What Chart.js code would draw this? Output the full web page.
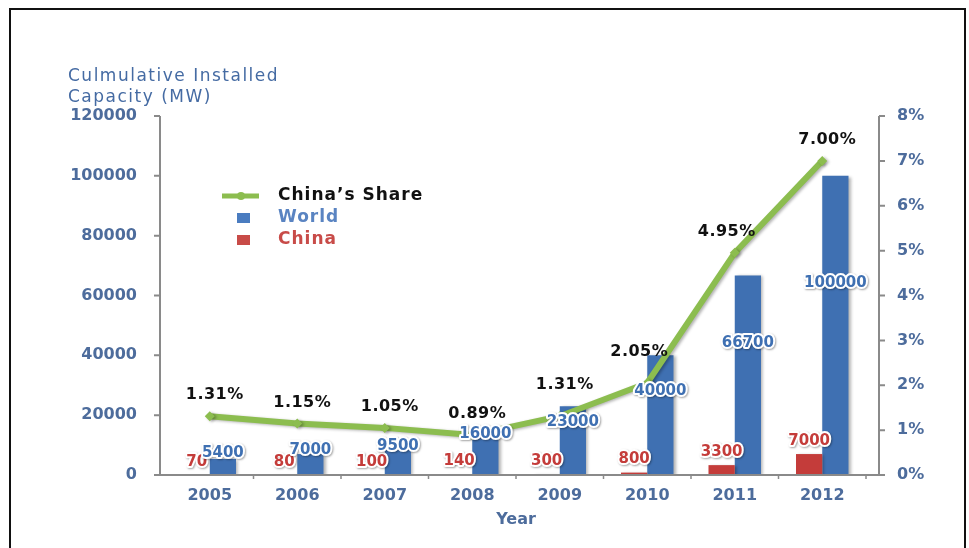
<!DOCTYPE html>
<html>
<head>
<meta charset="utf-8">
<script src="https://cdn.jsdelivr.net/npm/chart.js@4"></script>
<style>
  html, body { margin: 0; padding: 0; background: #fff; }
  #wrap { width: 969px; height: 548px; }
</style>
</head>
<body>
<div id="wrap"><canvas id="windChart" width="969" height="548"></canvas></div>
<script>
const years = ['2005', '2006', '2007', '2008', '2009', '2010', '2011', '2012'];
const worldMW = [5400, 7000, 9500, 16000, 23000, 40000, 66700, 100000];
const chinaMW = [70, 80, 100, 140, 300, 800, 3300, 7000];
const chinaShare = [1.31, 1.15, 1.05, 0.89, 1.31, 2.05, 4.95, 7.00];

const BLUE = '#3f70b2';
const RED = '#c43c3a';
const GREEN = '#8cbd4f';
const AXIS_TEXT = '#4d6c9c';
const FONT = '"DejaVu Sans", Verdana, sans-serif';

// text with a white halo, like the embossed value labels
function haloText(ctx, text, x, y, color, size) {
  ctx.save();
  ctx.font = 'bold ' + size + 'px ' + FONT;
  ctx.textAlign = 'center';
  ctx.textBaseline = 'middle';
  ctx.shadowColor = 'rgba(0,0,0,0.35)';
  ctx.shadowOffsetX = 1;
  ctx.shadowOffsetY = 1;
  ctx.shadowBlur = 2;
  ctx.lineWidth = 4;
  ctx.lineJoin = 'round';
  ctx.strokeStyle = '#fff';
  ctx.strokeText(text, x, y);
  ctx.shadowColor = 'transparent';
  ctx.fillStyle = color;
  ctx.fillText(text, x, y);
  ctx.restore();
}

const decor = {
  id: 'decor',
  beforeDraw(chart) {
    const ctx = chart.ctx;
    ctx.save();
    // outer frame
    ctx.strokeStyle = '#111';
    ctx.lineWidth = 2;
    ctx.strokeRect(10, 9, 955, 600);
    ctx.restore();
  },
  beforeDatasetDraw(chart, args) {
    const ctx = chart.ctx;
    ctx.save();
    ctx.shadowColor = 'rgba(0,0,0,0.3)';
    ctx.shadowOffsetX = 2;
    ctx.shadowOffsetY = 1;
    ctx.shadowBlur = 3;
  },
  afterDatasetDraw(chart) {
    chart.ctx.restore();
  },
  afterDatasetsDraw(chart) {
    const ctx = chart.ctx;
    const area = chart.chartArea;
    const y = chart.scales.y;
    const y1 = chart.scales.y1;
    const x = chart.scales.x;
    const leftX = area.left - 6;
    const rightX = area.right + 13;
    const baseY = area.bottom;
    const step = x.getPixelForValue(1) - x.getPixelForValue(0);

    // axis lines and tick marks
    ctx.save();
    ctx.strokeStyle = '#8a8a8a';
    ctx.lineWidth = 2;
    ctx.beginPath();
    ctx.moveTo(leftX, area.top);
    ctx.lineTo(leftX, baseY);
    ctx.moveTo(rightX, area.top);
    ctx.lineTo(rightX, baseY);
    ctx.moveTo(leftX - 6, baseY);
    ctx.lineTo(rightX + 6, baseY);
    y.ticks.forEach(t => {
      const py = y.getPixelForValue(t.value);
      ctx.moveTo(leftX - 6, py);
      ctx.lineTo(leftX, py);
    });
    y1.ticks.forEach(t => {
      const py = y1.getPixelForValue(t.value);
      ctx.moveTo(rightX, py);
      ctx.lineTo(rightX + 6, py);
    });
    ctx.stroke();
    ctx.lineWidth = 1.5;
    ctx.beginPath();
    for (let i = 0; i < years.length; i++) {
      const tx = x.getPixelForValue(i) + step / 2;
      ctx.moveTo(tx, baseY);
      ctx.lineTo(tx, baseY + 4);
    }
    ctx.stroke();
    ctx.restore();

    // value labels on the bars
    const chinaMeta = chart.getDatasetMeta(1);
    const worldMeta = chart.getDatasetMeta(2);
    chinaMeta.data.forEach((bar, i) => {
      const cy = Math.min(y.getPixelForValue(0) - 9, bar.y - 13);
      haloText(ctx, String(chinaMW[i]), bar.x, cy, RED, 15);
    });
    worldMeta.data.forEach((bar, i) => {
      const v = worldMW[i];
      const cy = y.getPixelForValue(0.6 * v + 4000);
      haloText(ctx, String(v), bar.x, cy, BLUE, 15);
    });

    // share labels above the line points, kept clear of steep segments
    const lineMeta = chart.getDatasetMeta(0);
    ctx.save();
    ctx.font = 'bold 16px ' + FONT;
    ctx.letterSpacing = '0.5px';
    ctx.fillStyle = '#111';
    ctx.textAlign = 'center';
    ctx.textBaseline = 'middle';
    lineMeta.data.forEach((pt, i) => {
      const next = i < chinaShare.length - 1 ? chinaShare[i + 1] - chinaShare[i] : 0;
      const prev = i > 0 ? chinaShare[i] - chinaShare[i - 1] : 0;
      const dx = next > 2 ? -8 : (next > 1.5 ? 0 : 5);
      const dy = (next > 0.5 && prev <= 1) ? 31 : 21;
      ctx.fillText(chinaShare[i].toFixed(2) + '%', pt.x + dx, pt.y - dy);
    });
    ctx.restore();

    // left axis title
    ctx.save();
    ctx.font = '17px ' + FONT;
    ctx.letterSpacing = '1.5px';
    ctx.fillStyle = '#456ba3';
    ctx.textAlign = 'left';
    ctx.textBaseline = 'middle';
    ctx.fillText('Culmulative Installed', 68, 77);
    ctx.fillText('Capacity (MW)', 68, 98);
    ctx.restore();

    // legend
    ctx.save();
    ctx.strokeStyle = GREEN;
    ctx.lineWidth = 5;
    ctx.beginPath();
    ctx.moveTo(222, 196);
    ctx.lineTo(259, 196);
    ctx.stroke();
    ctx.fillStyle = GREEN;
    ctx.beginPath();
    ctx.arc(241, 196, 4, 0, Math.PI * 2);
    ctx.fill();
    ctx.fillStyle = '#4a7cc0';
    ctx.fillRect(237, 213, 13, 10);
    ctx.fillStyle = '#c84b48';
    ctx.fillRect(237, 235, 13, 10);
    ctx.font = 'bold 17px ' + FONT;
    ctx.letterSpacing = '1px';
    ctx.textBaseline = 'middle';
    ctx.textAlign = 'left';
    ctx.fillStyle = '#111';
    ctx.fillText('China\u2019s Share', 278, 196);
    ctx.fillStyle = '#5a84c2';
    ctx.fillText('World', 278, 218);
    ctx.fillStyle = '#c84b48';
    ctx.fillText('China', 278, 240);
    ctx.restore();
  }
};

new Chart(document.getElementById('windChart'), {
  data: {
    labels: years,
    datasets: [{
      type: 'line',
      label: 'China\u2019s Share',
      data: chinaShare,
      yAxisID: 'y1',
      borderColor: GREEN,
      backgroundColor: GREEN,
      borderWidth: 6,
      pointStyle: 'rectRot',
      pointRadius: 5,
      pointBorderWidth: 0,
      order: 0
    }, {
      type: 'bar',
      label: 'China',
      data: chinaMW,
      yAxisID: 'y',
      backgroundColor: RED,
      categoryPercentage: 0.6,
      barPercentage: 1.0,
      order: 1
    }, {
      type: 'bar',
      label: 'World',
      data: worldMW,
      yAxisID: 'y',
      backgroundColor: BLUE,
      categoryPercentage: 0.6,
      barPercentage: 1.0,
      order: 1
    }]
  },
  options: {
    responsive: false,
    animation: false,
    layout: { padding: { top: 116, left: 0, right: 0, bottom: 19 } },
    plugins: {
      legend: { display: false },
      tooltip: { enabled: false }
    },
    scales: {
      x: {
        grid: { display: false, drawTicks: false },
        border: { display: false },
        ticks: {
          color: AXIS_TEXT,
          padding: 11,
          font: { family: FONT, size: 16, weight: 'bold' }
        },
        title: {
          display: true,
          text: 'Year',
          color: AXIS_TEXT,
          font: { family: FONT, size: 16, weight: 'bold' },
          padding: { top: 4, bottom: 0 }
        },
        afterFit(scale) { scale.height = 54; }
      },
      y: {
        position: 'left',
        min: 0,
        max: 120000,
        grid: { display: false, drawTicks: false },
        border: { display: false },
        ticks: {
          stepSize: 20000,
          color: AXIS_TEXT,
          padding: 29,
          font: { family: FONT, size: 16, weight: 'bold' },
          callback: v => String(v)
        },
        afterFit(scale) { scale.width = 166; }
      },
      y1: {
        position: 'right',
        min: 0,
        max: 8,
        grid: { display: false, drawTicks: false },
        border: { display: false },
        ticks: {
          stepSize: 1,
          color: AXIS_TEXT,
          padding: 31,
          font: { family: FONT, size: 16, weight: 'bold' },
          callback: v => v + '%'
        },
        afterFit(scale) { scale.width = 103; }
      }
    }
  },
  plugins: [decor]
});
</script>
</body>
</html>
